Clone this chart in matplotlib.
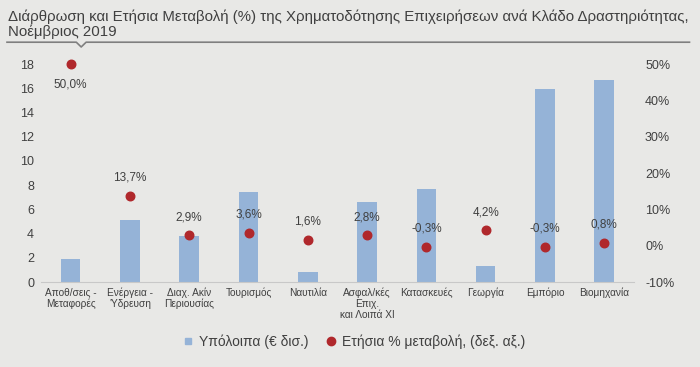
import matplotlib
matplotlib.use("Agg")
import matplotlib.pyplot as plt
from matplotlib.lines import Line2D

plt.rcParams["font.family"] = ["Liberation Sans", "DejaVu Sans"]

categories = ["Αποθ/σεις -\nΜεταφορές", "Ενέργεια -\n'Υδρευση", "Διαχ. Ακίν\nΠεριουσίας",
              "Τουρισμός", "Ναυτιλία", "Ασφαλ/κές\nΕπιχ.\nκαι Λοιπά ΧΙ", "Κατασκευές",
              "Γεωργία", "Εμπόριο", "Βιομηχανία"]
balances = [1.9, 5.1, 3.8, 7.4, 0.8, 6.6, 7.7, 1.3, 15.9, 16.7]
growth = [50.0, 13.7, 2.9, 3.6, 1.6, 2.8, -0.3, 4.2, -0.3, 0.8]

BG = "#E8E8E6"
BAR = "#95B3D7"
DOT = "#B0282C"
TXT = "#404040"

fig = plt.figure(figsize=(7, 3.67), dpi=100, facecolor=BG)
ax = fig.add_axes([0.0586, 0.2316, 0.847, 0.594])
ax.set_facecolor(BG)
x = list(range(len(categories)))
ax.bar(x, balances, width=0.33, color=BAR, zorder=2)
ax.set_xlim(-0.5, len(categories) - 0.5)
ax.set_ylim(0, 18)
ax.set_yticks(range(0, 19, 2))
ax.set_xticks(x)
ax.set_xticklabels(categories, fontsize=7.3, color=TXT, linespacing=1.1)
ax.tick_params(axis="both", length=0, colors=TXT)
ax.tick_params(axis="y", labelsize=9, pad=5)
ax.tick_params(axis="x", pad=4)
for s in ["top", "right", "left"]:
    ax.spines[s].set_visible(False)
ax.spines["bottom"].set_color("#C8C8C8")

ax2 = ax.twinx()
ax2.set_ylim(-10, 50)
ax2.set_yticks(range(-10, 51, 10))
ax2.set_yticklabels([f"{v}%" for v in range(-10, 51, 10)])
ax2.tick_params(axis="y", length=0, labelsize=9, colors=TXT, pad=8)
for s in ax2.spines.values():
    s.set_visible(False)
ax2.scatter(x, growth, s=38, color=DOT, zorder=3, clip_on=False)
for xi, g in zip(x, growth):
    lab = f"{g:.1f}%".replace(".", ",")
    off = -15 if g > 40 else 13
    ax2.annotate(lab, (xi, g), xytext=(0, off), textcoords="offset points",
                 ha="center", va="center", fontsize=8.5, color=TXT)

fig.text(0.012, 0.975, "Διάρθρωση και Ετήσια Μεταβολή (%) της Χρηματοδότησης Επιχειρήσεων ανά Κλάδο Δραστηριότητας,\nΝοέμβριος 2019",
         fontsize=10.8, color=TXT, va="top", ha="left", linespacing=1.05)
# rule under the title, with the little notch
fig.add_artist(Line2D([0.01, 0.109, 0.116, 0.123, 0.985],
                      [0.885, 0.885, 0.872, 0.885, 0.885], color="#7F7F7F", lw=1.2))

handles = [Line2D([], [], marker="s", ls="", color=BAR, markersize=5),
           Line2D([], [], marker="o", ls="", color=DOT, markersize=6)]
fig.legend(handles, ["Υπόλοιπα (€ δισ.)", "Ετήσια % μεταβολή, (δεξ. αξ.)"],
           loc="center", bbox_to_anchor=(0.5, 0.068), ncol=2, frameon=False,
           fontsize=10, handletextpad=-0.2, columnspacing=0.6, labelcolor=TXT)

fig.savefig("out.png", dpi=100, facecolor=BG)
